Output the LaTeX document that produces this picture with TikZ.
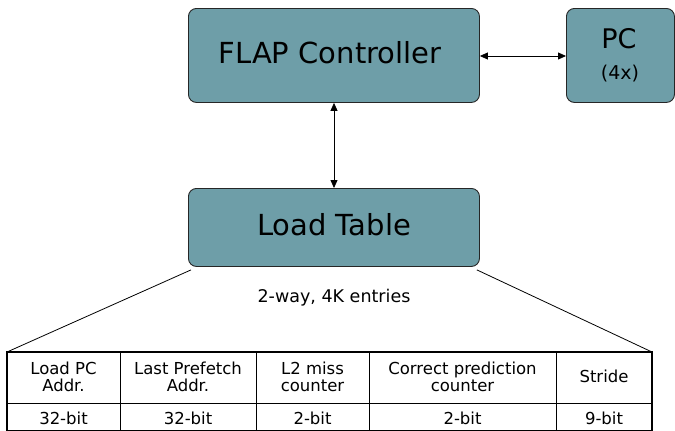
\documentclass[tikz,border=0pt]{standalone}
\usepackage{fontspec}
\setmainfont{DejaVu Sans}
\usetikzlibrary{arrows.meta}
\definecolor{boxfill}{HTML}{6E9EA8}
\begin{document}
\begin{tikzpicture}[x=1pt,y=-1pt,
  blk/.style={draw=black!85,line width=0.9pt,fill=boxfill,rounded corners=8pt},
  conn/.style={line width=0.8pt,{Triangle[length=8pt,width=7pt]}-{Triangle[length=8pt,width=7pt]}},
  cell/.style={font=\fontsize{16.5}{17}\selectfont,align=center,text=black}]
\useasboundingbox (0,0) rectangle (675,431);
\node[blk,minimum width=291pt,minimum height=94pt,anchor=north west,inner sep=0pt] (flap) at (188,8) {};
\node[font=\fontsize{29}{32}\selectfont,text=black] (flapt) at (330,53) {FLAP Controller};
\node[blk,minimum width=108pt,minimum height=94pt,anchor=north west,inner sep=0pt] (pc) at (566,8) {};
\node[font=\fontsize{27}{30}\selectfont,text=black] (pct) at (619,39) {PC};
\node[font=\fontsize{19}{22}\selectfont,text=black] (pcs) at (620,74) {(4x)};
\node[blk,minimum width=291pt,minimum height=78pt,anchor=north west,inner sep=0pt] (lt) at (188,188) {};
\node[font=\fontsize{29}{32}\selectfont,text=black] (ltt) at (334,225) {Load Table};
\node[font=\fontsize{17.5}{20}\selectfont,text=black] (way) at (334,298) {2-way, 4K entries};
\draw[conn] (flap.east |- 0,56) -- (pc.west |- 0,56);
\draw[conn] (flap.south -| 334,0) -- (lt.north -| 334,0);
% table
\coordinate (tl) at (7,352);
\coordinate (tr) at (652,352);
\draw[line width=0.8pt] ([xshift=3pt,yshift=-3pt]lt.south west) -- (tl);
\draw[line width=0.8pt] ([xshift=-3pt,yshift=-3pt]lt.south east) -- (tr);
\draw[line width=0.8pt] (120,352) -- (120,431) (256,352) -- (256,431) (369,352) -- (369,431) (556,352) -- (556,431);
\draw[line width=0.8pt] (7,403) -- (652,403);
\draw[line width=2pt] (7,431.5) -- (7,352) -- (652,352) -- (652,431.5);
\draw[line width=1.5pt] (7,430.5) -- (652,430.5);
\node[cell] (c1) at (63.5,377) {Load PC\\Addr.};
\node[cell] (c2) at (188,377) {Last Prefetch\\Addr.};
\node[cell] (c3) at (312.5,377) {L2 miss\\counter};
\node[cell] (c4) at (462.5,377) {Correct prediction\\counter};
\node[cell] (c5) at (604,376) {Stride};
\node[cell] (d1) at (63.5,418) {32-bit};
\node[cell] (d2) at (188,418) {32-bit};
\node[cell] (d3) at (312.5,418) {2-bit};
\node[cell] (d4) at (462.5,418) {2-bit};
\node[cell] (d5) at (604,418) {9-bit};
\end{tikzpicture}
\end{document}
